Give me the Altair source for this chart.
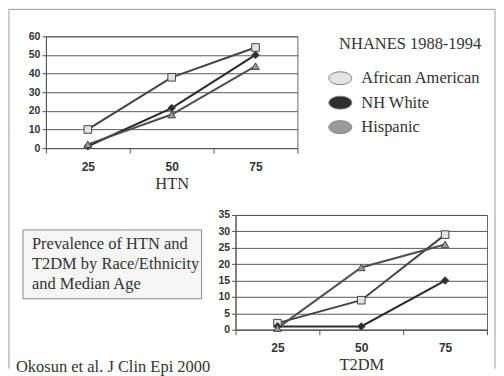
import altair as alt
import pandas as pd

# ---------------- data ----------------
ages = [25, 50, 75]
groups = ["African American", "NH White", "Hispanic"]

htn_aa = [10, 38, 54]
htn_nhw = [1, 21.5, 50]
htn_hisp = [2, 18, 44]

t2dm_aa = [2, 9, 29]
t2dm_nhw = [1, 1, 15]
t2dm_hisp = [0.5, 19, 26]

htn_ticks = [0, 10, 20, 30, 40, 50, 60]
t2dm_ticks = [0, 5, 10, 15, 20, 25, 30, 35]
x_ticks = [12.5, 25, 37.5, 50, 62.5, 75, 87.5]

legend_title = "NHANES 1988-1994"
box_lines = ["Prevalence of HTN and", "T2DM by Race/Ethnicity", "and Median Age"]
citation = "Okosun et al. J Clin Epi 2000"

SERIF = "Liberation Serif"
SANS = "Liberation Sans"


def long_frame(series):
    rows = []
    for g, vals in zip(groups, series):
        for a, v in zip(ages, vals):
            rows.append({"age": a, "group": g, "value": v})
    return pd.DataFrame(rows)


shape_scale = alt.Scale(domain=groups, range=["square", "diamond", "triangle-up"])
fill_scale = alt.Scale(domain=groups, range=["#e4e4e4", "#2e2e2e", "#9a9a9a"])
line_scale = alt.Scale(domain=groups, range=["#444444", "#2a2a2a", "#4f4f4f"])
width_scale = alt.Scale(domain=groups, range=[2.0, 2.0, 1.4])


def panel(df, ticks, ymax, title, height, frame=False):
    x = alt.X(
        "age:Q",
        scale=alt.Scale(domain=[12.5, 87.5], nice=False, zero=False),
        axis=alt.Axis(
            values=x_ticks,
            labelExpr="datum.value % 25 == 0 ? datum.label : ''",
            tickOpacity={"condition": {"test": "datum.value % 25 == 0", "value": 0}, "value": 1},
            tickSize=5,
            tickColor="#555",
            domainColor="#555",
            grid=False,
            labelFont=SANS,
            labelFontWeight="bold",
            labelFontSize=12,
            labelColor="#333",
            labelPadding=8,
            title=title,
            titleFont=SERIF,
            titleFontSize=16.5,
            titleFontWeight="normal",
            titleColor="#333",
            titlePadding=3,
        ),
    )
    y = alt.Y(
        "value:Q",
        scale=alt.Scale(domain=[0, ymax], nice=False),
        axis=alt.Axis(
            values=ticks,
            grid=True,
            gridColor="#5a5a5a",
            gridWidth=1,
            domainColor="#555",
            tickColor="#555",
            tickSize=4,
            labelFont=SANS,
            labelFontWeight="bold",
            labelFontSize=10.5,
            labelColor="#333",
            labelPadding=2,
            title=None,
        ),
    )
    lines = alt.Chart(df).mark_line().encode(
        x=x,
        y=y,
        color=alt.Color("group:N", scale=line_scale, legend=None),
        strokeWidth=alt.StrokeWidth("group:N", scale=width_scale, legend=None),
    )
    pts = alt.Chart(df).mark_point(filled=True, size=58, stroke="#444", strokeWidth=1, opacity=1).encode(
        x=x,
        y=y,
        shape=alt.Shape("group:N", scale=shape_scale, legend=None),
        fill=alt.Fill("group:N", scale=fill_scale, legend=None),
    )
    layers = [lines, pts]
    if frame:
        one = alt.Data(values=[{"k": 1}])
        base = alt.Chart(one).mark_rule(color="#9a9a9a", strokeWidth=1)
        layers.append(base.encode(x=alt.value(-37), y=alt.value(-27), y2=alt.value(333)))
        layers.append(base.encode(x=alt.value(-37), x2=alt.value(450), y=alt.value(-27)))
        layers.append(base.encode(x=alt.value(450), y=alt.value(-27), y2=alt.value(333)))
    return alt.layer(*layers).properties(
        width=252, height=height, view=alt.ViewBackground(stroke="#666", strokeWidth=1)
    )


top = panel(long_frame([htn_aa, htn_nhw, htn_hisp]), htn_ticks, 60, "HTN", 112, frame=True)
bottom = panel(long_frame([t2dm_aa, t2dm_nhw, t2dm_hisp]), t2dm_ticks, 35, "T2DM", 115)

# ---------------- legend panel ----------------
legend_df = pd.DataFrame({"group": groups})
ellipse = "M-1,0 A1,0.56 0 1,1 1,0 A1,0.56 0 1,1 -1,0 Z"
ly = alt.Y("group:N", scale=alt.Scale(domain=groups, range=[42, 91], padding=0), axis=None)
leg_fill = alt.Scale(domain=groups, range=["#d9d9d9", "#333333", "#8a8a8a"])

leg_title = alt.Chart(alt.Data(values=[{"t": legend_title}])).mark_text(
    font=SERIF, fontSize=16.5, color="#333", align="center", baseline="middle"
).encode(x=alt.value(113), y=alt.value(8), text="t:N")
leg_sym = alt.Chart(legend_df).mark_point(
    shape=ellipse, size=529, filled=True, stroke="#808080", strokeWidth=1, opacity=1
).encode(x=alt.value(43), y=ly, fill=alt.Fill("group:N", scale=leg_fill, legend=None))
leg_txt = alt.Chart(legend_df).mark_text(
    font=SERIF, fontSize=16.5, color="#333", align="left", baseline="middle"
).encode(x=alt.value(64), y=ly, text="group:N")

legend = alt.layer(leg_title, leg_sym, leg_txt).properties(
    width=190, height=112, view=alt.ViewBackground(strokeOpacity=0)
)

# ---------------- text box panel ----------------
box_df = pd.DataFrame({"i": list(range(len(box_lines))), "line": box_lines})
box_rect = alt.Chart(alt.Data(values=[{"k": 1}])).mark_rect(
    fill="#f5f5f5", stroke="#8a8a8a", strokeWidth=1
).encode(x=alt.value(-23), x2=alt.value(156), y=alt.value(15), y2=alt.value(84))
box_txt = alt.Chart(box_df).mark_text(
    font=SERIF, fontSize=16.5, color="#333", align="left", baseline="middle"
).encode(
    x=alt.value(-14),
    y=alt.Y("i:O", scale=alt.Scale(domain=[0, 1, 2], range=[29, 69], padding=0), axis=None),
    text="line:N",
)
cite = alt.Chart(alt.Data(values=[{"t": citation}])).mark_text(
    font=SERIF, fontSize=16.5, color="#333", align="left", baseline="middle"
).encode(x=alt.value(-30), y=alt.value(152), text="t:N")

box = alt.layer(box_rect, box_txt, cite).properties(
    width=190, height=115, view=alt.ViewBackground(strokeOpacity=0)
)

row1 = alt.hconcat(top, legend, spacing=0, bounds="flush")
row2 = alt.hconcat(box, bottom, spacing=0, bounds="flush")
# flush rows count as zero height, so the spacing carries the first row's height (112) too
chart = alt.vconcat(row1, row2, spacing=179, bounds="flush").properties(
    padding=0, background="white"
)

chart.save("out.html", embed_options={"renderer": "svg", "actions": False})
